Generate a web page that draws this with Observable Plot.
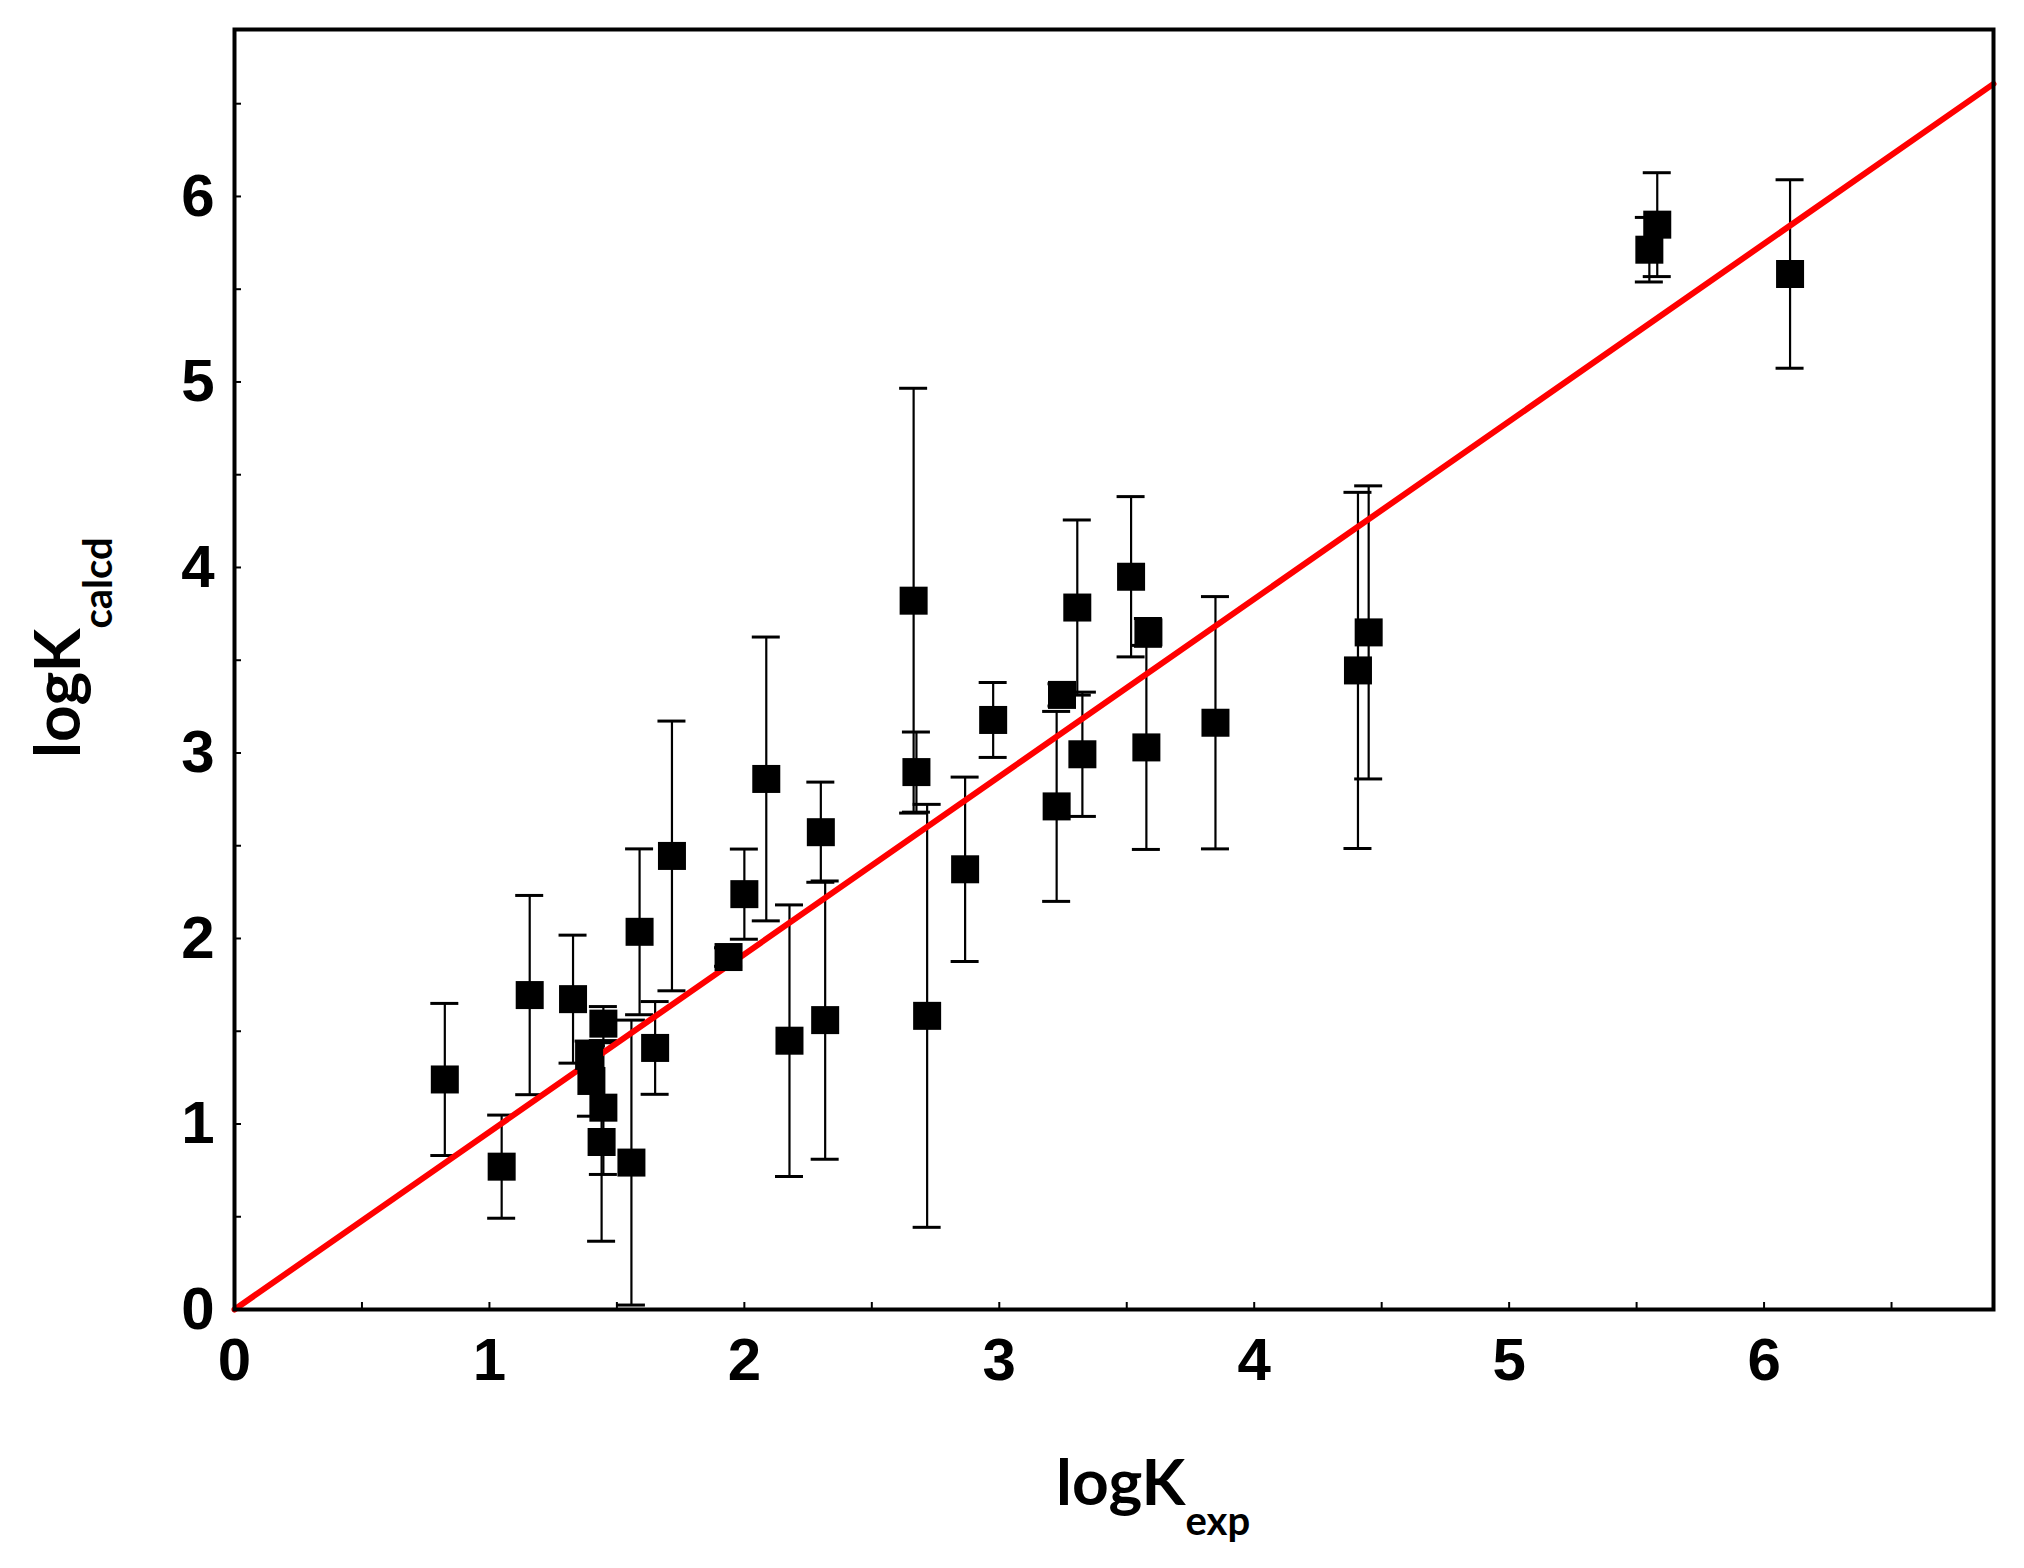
<!DOCTYPE html>
<html><head><meta charset="utf-8">
<script src="https://cdn.jsdelivr.net/npm/d3@7"></script>
<script src="https://cdn.jsdelivr.net/npm/@observablehq/plot@0.6"></script>
<style>html,body{margin:0;padding:0;background:#fff;} #chart svg{display:block}</style>
</head><body><div id="chart"></div>
<script>
// Data
const xExp  = [0.825, 1.048, 1.158, 1.328, 1.391, 1.400, 1.447, 1.447, 1.440, 1.557, 1.589, 1.650, 1.716, 1.938, 2.000, 2.086, 2.177, 2.317, 2.300, 2.717, 2.866, 2.664, 2.675, 2.976, 3.225, 3.246, 3.306, 3.326, 3.517, 3.585, 3.577, 3.848, 4.407, 4.449, 5.550, 5.581, 6.102];
const yCalc = [1.240, 0.770, 1.695, 1.673, 1.367, 1.232, 1.541, 1.088, 0.903, 0.792, 2.036, 1.410, 2.445, 1.900, 2.239, 2.860, 1.449, 1.560, 2.573, 1.583, 2.373, 3.821, 2.897, 3.178, 2.712, 3.313, 3.784, 2.993, 3.950, 3.650, 3.030, 3.163, 3.445, 3.650, 5.713, 5.848, 5.582];
const yErr  = [0.410, 0.278, 0.537, 0.345, 0.080, 0.190, 0.092, 0.360, 0.535, 0.768, 0.447, 0.250, 0.727, 0.050, 0.243, 0.765, 0.732, 0.750, 0.270, 1.140, 0.497, 1.145, 0.216, 0.202, 0.512, 0.060, 0.472, 0.335, 0.432, 0.075, 0.550, 0.680, 0.960, 0.790, 0.174, 0.280, 0.508];
const fitX = [0, 6.9];
const fitY = [0, 6.607];
const xTicks = [0, 1, 2, 3, 4, 5, 6];
const yTicks = [0, 1, 2, 3, 4, 5, 6];
const minorTicks = [0, 0.5, 1, 1.5, 2, 2.5, 3, 3.5, 4, 4.5, 5, 5.5, 6, 6.5];
const xTitle = "logK", xSub = "exp";
const yTitle = "logK", ySub = "calcd";

const points = xExp.map((x, i) => ({x, y: yCalc[i], lo: yCalc[i] - yErr[i], hi: yCalc[i] + yErr[i]}));
const fit = fitX.map((x, i) => ({x, y: fitY[i]}));

const W = 2024, H = 1568;
const tickFont = "'Liberation Sans', Arial, sans-serif";
const plot = Plot.plot({
  width: W, height: H,
  marginLeft: 234, marginRight: 31, marginTop: 29, marginBottom: 259,
  x: {domain: [0, 6.9]},
  y: {domain: [0, 6.9]},
  style: {fontFamily: tickFont, background: "white", color: "black"},
  marks: [
    // minor inward ticks
    Plot.ruleY(minorTicks, {y: d => d, x1: 0, x2: 0, insetRight: -7, stroke: "black", strokeWidth: 2}),
    Plot.ruleX(minorTicks, {x: d => d, y1: 0, y2: 0, insetBottom: 7, stroke: "black", strokeWidth: 2}),
    Plot.axisX(xTicks, {tickSize: 0, tickPadding: 28, fontSize: 60, fontWeight: "bold", label: null, tickFormat: d => String(d)}),
    Plot.axisY(yTicks, {tickSize: 0, tickPadding: 20, fontSize: 60, fontWeight: "bold", label: null, tickFormat: d => String(d)}),
    // error bars
    Plot.ruleX(points, {x: "x", y1: "lo", y2: "hi", stroke: "black", strokeWidth: 2.2}),
    Plot.ruleY(points, {y: "hi", x1: "x", x2: "x", insetLeft: -14, insetRight: -14, stroke: "black", strokeWidth: 3}),
    Plot.ruleY(points, {y: "lo", x1: "x", x2: "x", insetLeft: -14, insetRight: -14, stroke: "black", strokeWidth: 3}),
    // fit line
    Plot.line(fit, {x: "x", y: "y", stroke: "#ff0000", strokeWidth: 6}),
    // points
    Plot.dot(points, {x: "x", y: "y", symbol: "square", r: 15.8, fill: "black", stroke: "none"}),
    Plot.frame({stroke: "black", strokeWidth: 4})
  ]
});

const svg = d3.select(plot);
const titleFont = "Lato, 'Open Sans', sans-serif";
// x title
const xt = svg.append("text")
  .attr("x", 1056).attr("y", 1505)
  .attr("text-anchor", "start")
  .attr("font-family", titleFont).attr("font-weight", "bold")
  .attr("font-size", 64).attr("fill", "black");
xt.append("tspan").text(xTitle);
xt.append("tspan").attr("font-size", 40).attr("dy", 30).text(xSub);
// y title
const yt = svg.append("text")
  .attr("transform", "translate(80,758) rotate(-90)")
  .attr("text-anchor", "start")
  .attr("font-family", titleFont).attr("font-weight", "bold")
  .attr("font-size", 64).attr("fill", "black");
yt.append("tspan").text(yTitle);
yt.append("tspan").attr("font-size", 40).attr("dy", 32).text(ySub);

document.getElementById("chart").appendChild(plot);
</script>
</body></html>
